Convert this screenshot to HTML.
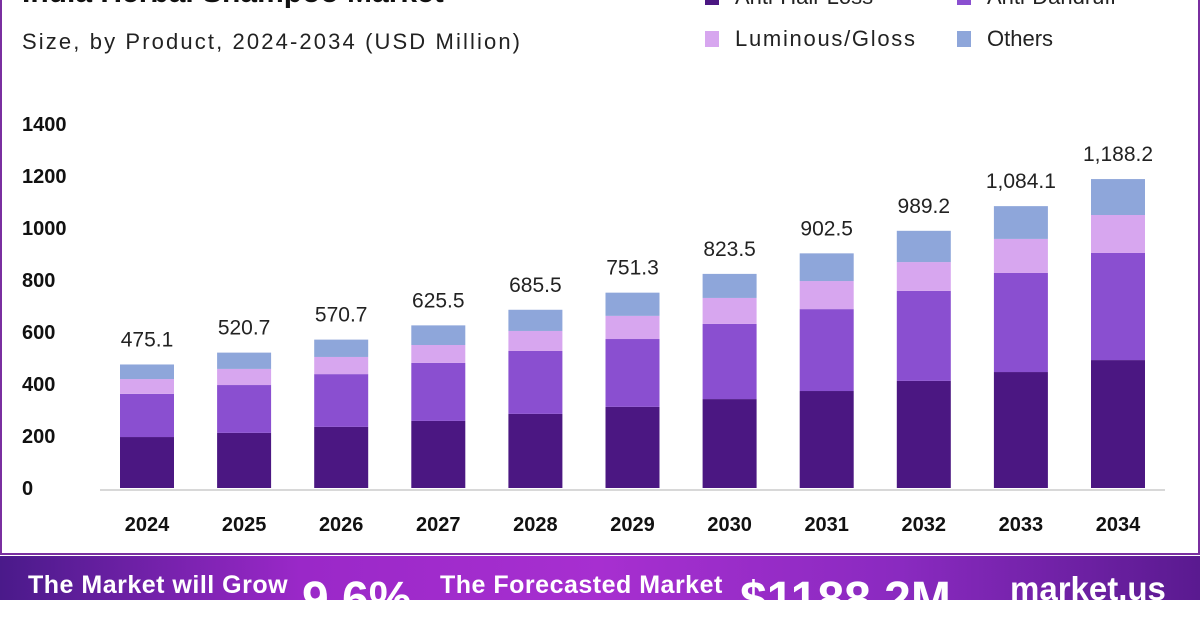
<!DOCTYPE html>
<html><head><meta charset="utf-8"><style>
body{margin:0;width:1200px;height:600px;overflow:hidden;background:#fff;font-family:"Liberation Sans",sans-serif;}
#frame{position:absolute;left:0;top:0;width:1196px;height:553px;border-left:2px solid #7a2fa0;border-right:2px solid #7a2fa0;border-bottom:2px solid #7a2fa0;}
#banner{position:absolute;left:0;top:556px;width:1200px;height:44px;background:linear-gradient(90deg,#4a1a8a 0%,#9a28c8 25%,#a72fd0 50%,#8a2ac0 75%,#5a1a90 100%);color:#fff;font-weight:bold;white-space:nowrap;}
</style></head><body>
<div id="frame"></div>
<svg width="1200" height="600" style="position:absolute;left:0;top:0" id="chart">
<text x="22" y="2" font-size="30" font-weight="bold" fill="#111">India Herbal Shampoo Market</text>
<text x="22" y="49" font-size="22" fill="#222" textLength="498">Size, by Product, 2024-2034 (USD Million)</text>
<g id="legend"></g>
<g id="yaxis"></g>
<g id="bars"></g>
<line x1="100" y1="490" x2="1165" y2="490" stroke="#ccc" stroke-width="1.5"/>
</svg>
<div id="banner">
<span style="position:absolute;left:28px;top:15px;font-size:25px;letter-spacing:0.5px">The Market will Grow</span>
<span style="position:absolute;left:302px;top:16px;font-size:48px">9.6%</span>
<span style="position:absolute;left:440px;top:15px;font-size:25px;letter-spacing:0.5px">The Forecasted Market</span>
<span style="position:absolute;left:740px;top:16px;font-size:48px">$1188.2M</span>
<span style="position:absolute;left:1010px;top:14px;font-size:33px">market.us</span>
</div>
<script>
const years=["2024","2025","2026","2027","2028","2029","2030","2031","2032","2033","2034"];
const antiHairLoss=[196,212,235,258,285,312,342,373,412,446,492];
const antiDandruff=[166,184,203,223,242,261,289,315,346,381,412];
const luminous=[57,62,66,69,77,89,100,108,111,131,146];
const others=[56.1,62.7,66.7,75.5,81.5,89.3,92.5,106.5,120.2,126.1,138.2];
const totals=["475.1","520.7","570.7","625.5","685.5","751.3","823.5","902.5","989.2","1,084.1","1,188.2"];
const yTicks=[0,200,400,600,800,1000,1200,1400];
const seriesNames=["Anti-Hair Loss","Anti-Dandruff","Luminous/Gloss","Others"];
const colors=["#4b1782","#8a4fd0","#d7a6ef","#8ea6da"];
const NS="http://www.w3.org/2000/svg";
const y=v=>488-v*0.26;
const x=i=>147+i*97.1;
function mk(tag,at,parent){const e=document.createElementNS(NS,tag);for(const k in at)e.setAttribute(k,at[k]);document.getElementById(parent).appendChild(e);return e;}
yTicks.forEach(t=>{const e=mk("text",{x:22,y:y(t)+7,"font-size":20,"font-weight":"bold",fill:"#111"},"yaxis");e.textContent=t;

});
const series=[antiHairLoss,antiDandruff,luminous,others];
years.forEach((yr,i)=>{let base=0;
series.forEach((s,k)=>{const r=mk("rect",{x:x(i)-27,y:y(base+s[i]),width:54,height:s[i]*0.26,fill:colors[k]},"bars");


base+=s[i];});
const t=mk("text",{x:x(i),y:y(base)-18,"font-size":21,"text-anchor":"middle",fill:"#222"},"bars");t.textContent=totals[i];


const l=mk("text",{x:x(i),y:531,"font-size":20,"font-weight":"bold","text-anchor":"middle",fill:"#111"},"bars");l.textContent=yr;


});
seriesNames.forEach((n,k)=>{const lx=713+(k%2)*252,ly=k<2?-3:39;
const r=mk("rect",{x:lx-8,y:ly-8,width:14,height:16,fill:colors[k]},"legend");


const t=mk("text",{x:lx+22,y:ly+7,"font-size":22,fill:"#222"},"legend");t.textContent=n;
if(n==="Luminous/Gloss")t.setAttribute("textLength","180");

});
</script>
</body></html>
